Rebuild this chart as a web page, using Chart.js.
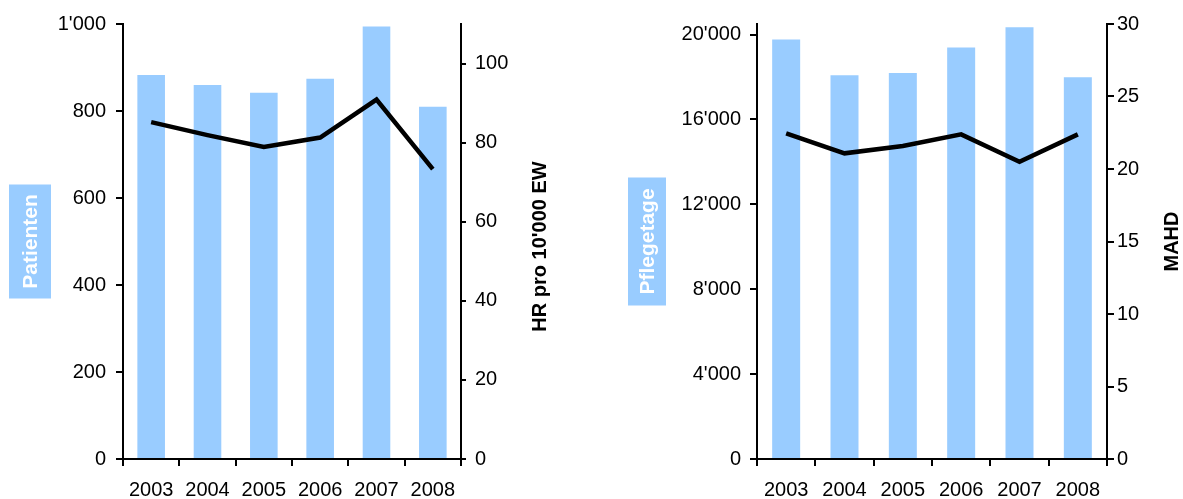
<!DOCTYPE html>
<html lang="de">
<head>
    <meta charset="UTF-8">
    <title>Patienten und Pflegetage 2003-2008</title>
    <script src="https://cdn.jsdelivr.net/npm/chart.js"></script>
    <style>
        body { margin: 0; background: #fff; }
        canvas { position: absolute; top: 0; }
    </style>
</head>
<body>
    <canvas id="chartPatienten" width="600" height="499" style="left:0"></canvas>
    <canvas id="chartPflegetage" width="583" height="499" style="left:600px"></canvas>

    <script>
        // Daten
        const jahre = ['2003', '2004', '2005', '2006', '2007', '2008'];
        const patienten = [883, 860, 842, 874, 994, 810];
        const hrPro10000 = [85.2, 81.9, 78.9, 81.3, 90.9, 73.3];
        const pflegetage = [19765, 18085, 18196, 19388, 20344, 17990];
        const mahd = [22.46, 21.08, 21.59, 22.39, 20.5, 22.39];

        // Achsenbeschriftungen
        const patientenTicks = [0, 200, 400, 600, 800, 1000];
        const hrTicks = [0, 20, 40, 60, 80, 100];
        const pflegetageTicks = [0, 4000, 8000, 12000, 16000, 20000];
        const mahdTicks = [0, 5, 10, 15, 20, 25, 30];

        const blau = '#99CCFF';
        Chart.defaults.font.family = '"Liberation Sans", Arial, sans-serif';
        Chart.defaults.font.size = 20;
        Chart.defaults.color = '#000';

        // 1'000 statt 1000
        const tausender = v => String(v).replace(/\B(?=(\d{3})+(?!\d))/g, "'");

        // gedrehte Achsentitel (von unten nach oben gelesen)
        const seitenTitel = {
            id: 'seitenTitel',
            afterDraw(chart, args, opts) {
                const { ctx, chartArea } = chart;
                const cy = (chartArea.top + chartArea.bottom) / 2;
                opts.items.forEach(t => {
                    const cx = t.side === 'left' ? chartArea.left - t.dist : chartArea.right + t.dist;
                    ctx.save();
                    ctx.translate(cx, cy + (t.dy || 0));
                    ctx.rotate(-Math.PI / 2);
                    ctx.font = 'bold ' + t.size + 'px "Liberation Sans", Arial, sans-serif';
                    if (t.box) {
                        ctx.fillStyle = t.box;
                        ctx.fillRect(-t.len / 2, -t.thick / 2, t.len, t.thick);
                    }
                    ctx.fillStyle = t.color;
                    ctx.textAlign = 'center';
                    ctx.textBaseline = 'middle';
                    ctx.fillText(t.text, 0, 1);
                    ctx.restore();
                });
            }
        };

        const achse = (pos, width, max, tickWerte, tickLen, pad) => ({
            type: 'linear',
            position: pos,
            min: 0,
            max: max,
            bounds: 'data',
            border: { display: true, color: '#000', width: 2 },
            grid: { drawOnChartArea: false, drawTicks: true, tickLength: tickLen, color: '#000', lineWidth: 2 },
            ticks: { padding: pad, callback: v => tausender(v) },
            afterBuildTicks: s => { s.ticks = tickWerte.map(v => ({ value: v })); },
            afterFit: s => { s.width = width; }
        });

        const xAchse = {
            type: 'category',
            offset: true,
            border: { display: true, color: '#000', width: 2 },
            grid: { offset: true, drawOnChartArea: false, tickLength: 7, color: '#000', lineWidth: 2 },
            ticks: { autoSkip: false, maxRotation: 0, padding: 12 },
            afterFit: s => { s.height = 40; }
        };

        const baueChart = (id, balken, linie, balkenBreite, links, rechts, titel) => {
            new Chart(document.getElementById(id), {
                type: 'bar',
                data: {
                    labels: jahre,
                    datasets: [
                        {
                            type: 'line',
                            data: linie,
                            yAxisID: 'y1',
                            borderColor: '#000',
                            borderWidth: 4.5,
                            pointRadius: 0,
                            tension: 0,
                            order: 0
                        },
                        {
                            data: balken,
                            yAxisID: 'y',
                            backgroundColor: blau,
                            categoryPercentage: 1,
                            barPercentage: balkenBreite,
                            order: 1
                        }
                    ]
                },
                options: {
                    responsive: false,
                    animation: false,
                    layout: { padding: { top: 24, bottom: 0, left: 0, right: 0 } },
                    plugins: {
                        legend: { display: false },
                        tooltip: { enabled: false },
                        seitenTitel: { items: titel }
                    },
                    scales: { x: xAchse, y: links, y1: rechts }
                },
                plugins: [seitenTitel]
            });
        };

        baueChart('chartPatienten', patienten, hrPro10000, 0.49,
            achse('left', 123, 1000, patientenTicks, 7, 10),
            achse('right', 139, 110, hrTicks, 5, 9),
            [
                { side: 'left', dist: 93, text: 'Patienten', color: '#fff', box: blau, len: 114, thick: 42, size: 21 },
                { side: 'right', dist: 78, dy: 5, text: "HR pro 10'000 EW", color: '#000', size: 20 }
            ]);

        baueChart('chartPflegetage', pflegetage, mahd, 0.48,
            achse('left', 157, 20500, pflegetageTicks, 7, 9),
            achse('right', 76, 30, mahdTicks, 7, 3),
            [
                { side: 'left', dist: 110, text: 'Pflegetage', color: '#fff', box: blau, len: 128, thick: 38, size: 21 },
                { side: 'right', dist: 64, text: 'MAHD', color: '#000', size: 20 }
            ]);
    </script>
</body>
</html>
